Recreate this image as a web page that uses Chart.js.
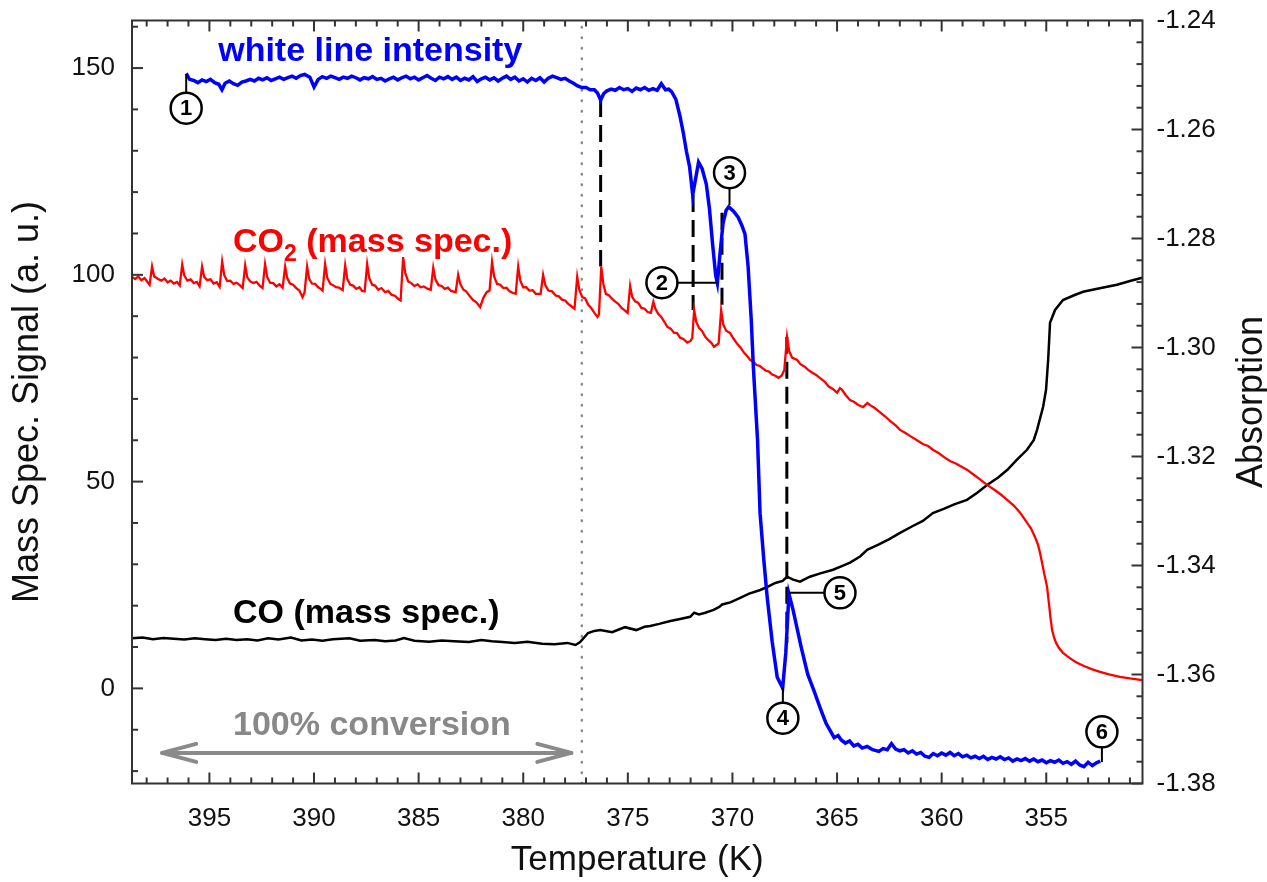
<!DOCTYPE html>
<html>
<head>
<meta charset="utf-8">
<script src="https://cdn.jsdelivr.net/npm/chart.js@4.4.0/dist/chart.umd.min.js"></script>
<style>
  html, body { margin: 0; padding: 0; background: #fff; }
  #wrap { width: 1267px; height: 882px; }
</style>
</head>
<body>
<div id="wrap"><canvas id="chart"></canvas></div>
<script>
  'use strict';

  // tick labels
  var tempTicks = [355, 360, 365, 370, 375, 380, 385, 390, 395];
  var signalTicks = [0, 50, 100, 150];
  var absTicks = [-1.38, -1.36, -1.34, -1.32, -1.30, -1.28, -1.26, -1.24];

  // white line intensity (absorption, right axis)
  var wlTemp = [396.11, 395.95, 395.75, 395.55, 395.35, 395.15, 394.95, 394.75, 394.55, 394.4, 394.25, 394.05, 393.85,
    393.65, 393.45, 393.25, 393.05, 392.85, 392.65, 392.45, 392.25, 392.05, 391.85, 391.65, 391.45, 391.25, 391.05,
    390.85, 390.65, 390.45, 390.2, 390.0, 389.8, 389.6, 389.4, 389.2, 389.0, 388.8, 388.6, 388.4, 388.2, 388.0, 387.8,
    387.6, 387.4, 387.2, 387.0, 386.8, 386.6, 386.4, 386.2, 386.0, 385.8, 385.6, 385.4, 385.2, 385.0, 384.8, 384.6,
    384.4, 384.2, 384.0, 383.8, 383.6, 383.4, 383.2, 383.0, 382.8, 382.6, 382.4, 382.2, 382.0, 381.8, 381.6, 381.4,
    381.2, 381.0, 380.8, 380.6, 380.4, 380.2, 380.0, 379.8, 379.6, 379.4, 379.2, 379.0, 378.8, 378.6, 378.4, 378.2,
    378.0, 377.8, 377.6, 377.4, 377.2, 377.0, 376.8, 376.6, 376.45, 376.3, 376.15, 376.0, 375.8, 375.6, 375.4, 375.2,
    375.0, 374.8, 374.6, 374.4, 374.2, 374.0, 373.8, 373.6, 373.4, 373.2, 373.05, 372.9,
    372.7, 372.5, 372.35, 372.2, 372.05, 371.9, 371.75, 371.62, 371.45, 371.25, 371.1, 370.95, 370.8, 370.72, 370.6,
    370.45, 370.3, 370.18, 369.95, 369.73, 369.55, 369.4, 369.25, 369.1, 369.0, 368.8, 368.68, 368.5, 368.34, 368.1,
    367.86, 367.6, 367.45, 367.3, 367.1, 366.72, 366.4,
    366.1, 365.8, 365.52, 365.3, 365.14, 364.95, 364.8, 364.6, 364.4, 364.2, 364.0, 363.8, 363.56, 363.3, 363.0, 362.8,
    362.6, 362.4, 362.2, 362.0, 361.8, 361.6, 361.4, 361.2, 361.0, 360.8, 360.6, 360.4, 360.2, 360.0, 359.8, 359.6,
    359.4, 359.2, 359.0, 358.8, 358.6, 358.4, 358.2, 358.0, 357.8, 357.6, 357.4, 357.2, 357.0, 356.8, 356.6, 356.4,
    356.2, 356.0, 355.8, 355.6, 355.4, 355.2, 355.0, 354.8, 354.6, 354.4, 354.2, 354.0, 353.8, 353.6, 353.4, 353.2,
    353.0, 352.8, 352.6, 352.42];
  var wlAbs = [-1.2497, -1.2508, -1.2510, -1.2514, -1.2509, -1.2512, -1.2508, -1.2514, -1.2517, -1.2527, -1.2515, -1.2511, -1.2516,
    -1.2519, -1.2513, -1.2511, -1.2508, -1.2511, -1.2506, -1.2509, -1.2505, -1.2510, -1.2507, -1.2504, -1.2508, -1.2505, -1.2502,
    -1.2506, -1.2501, -1.2499, -1.2504, -1.2522, -1.2508, -1.2503, -1.2506, -1.2502, -1.2505, -1.2508, -1.2504, -1.2506, -1.2502, -1.2505, -1.2509,
    -1.2505, -1.2507, -1.2503, -1.2508, -1.2506, -1.2511, -1.2507, -1.2504, -1.2509, -1.2505, -1.2502, -1.2507, -1.2504, -1.2509, -1.2505, -1.2501,
    -1.2506, -1.2510, -1.2504, -1.2507, -1.2503, -1.2508, -1.2504, -1.2510, -1.2506, -1.2509, -1.2503, -1.2512, -1.2507, -1.2504, -1.2509, -1.2505,
    -1.2511, -1.2506, -1.2502, -1.2508, -1.2504, -1.2511, -1.2507, -1.2513, -1.2506, -1.2510, -1.2505, -1.2513, -1.2506, -1.2502, -1.2505, -1.2508,
    -1.2506, -1.2511, -1.2515, -1.2520, -1.2523, -1.2523, -1.2527, -1.2527, -1.2533, -1.2546, -1.2534, -1.2529, -1.2526, -1.2528, -1.2523, -1.2527,
    -1.2525, -1.2530, -1.2524, -1.2527, -1.2523, -1.2528, -1.2525, -1.2528, -1.2516, -1.2527, -1.2526, -1.2531,
    -1.2545, -1.2577, -1.2606, -1.2640, -1.2668, -1.2720, -1.2688, -1.2660, -1.2672, -1.2700, -1.2745, -1.2810, -1.2868, -1.2882, -1.2830,
    -1.2772, -1.2748, -1.2742, -1.2750, -1.2761, -1.2776, -1.2792, -1.2852, -1.2950, -1.3036, -1.3170, -1.3304, -1.3390, -1.3458, -1.3540,
    -1.3605, -1.3625, -1.3560, -1.3452, -1.3482, -1.3549, -1.3600,
    -1.3630, -1.3662, -1.3690, -1.3705, -1.3716, -1.3712, -1.3720, -1.3726, -1.3722, -1.3731, -1.3728, -1.3735, -1.3732, -1.3738, -1.3741, -1.3736,
    -1.3738, -1.3727, -1.3737, -1.3740, -1.3738, -1.3744, -1.3740, -1.3746, -1.3743, -1.3750, -1.3752, -1.3745, -1.3749, -1.3744, -1.3748, -1.3743,
    -1.3749, -1.3745, -1.3751, -1.3748, -1.3753, -1.3750, -1.3754, -1.3750, -1.3756, -1.3752, -1.3755, -1.3751, -1.3756, -1.3753, -1.3759, -1.3755,
    -1.3758, -1.3754, -1.3759, -1.3755, -1.3760, -1.3757, -1.3762, -1.3758, -1.3761, -1.3757, -1.3763, -1.3760, -1.3765, -1.3759, -1.3766, -1.3769,
    -1.3761, -1.3767, -1.3762, -1.3759];

  // CO2 mass spec signal (left axis)
  var co2Temp = [398.70, 398.55, 398.40, 398.25, 398.10, 397.95, 397.86, 397.74, 397.64, 397.45, 397.30, 397.15, 397.00,
    396.85, 396.70, 396.55, 396.42, 396.30, 396.20, 396.05, 395.90, 395.75, 395.60, 395.47, 395.35, 395.25, 395.10,
    394.95, 394.80, 394.65, 394.51, 394.39, 394.29, 394.15, 394.00, 393.85, 393.70, 393.55, 393.41, 393.29, 393.19,
    393.05, 392.90, 392.75, 392.60, 392.46, 392.34, 392.24, 392.10, 391.95, 391.80, 391.65, 391.50, 391.38, 391.28,
    391.15, 391.00, 390.85, 390.70, 390.55, 390.45, 390.33, 390.23, 390.10, 389.95, 389.80, 389.68, 389.59, 389.47,
    389.37, 389.22, 389.09, 388.95, 388.80, 388.63, 388.51, 388.41, 388.27, 388.13, 387.98, 387.83, 387.70, 387.58,
    387.46, 387.36, 387.22, 387.08, 386.93, 386.78, 386.60, 386.45, 386.30, 386.12, 385.98, 385.86, 385.74, 385.64,
    385.50, 385.35, 385.20, 385.05, 384.90, 384.75, 384.56, 384.42, 384.30, 384.20, 384.05, 383.90, 383.75, 383.60,
    383.45, 383.23, 383.11, 383.01, 382.86, 382.73, 382.55, 382.40, 382.25, 382.06, 381.90, 381.75, 381.61, 381.49,
    381.39, 381.25, 381.10, 380.95, 380.80, 380.65, 380.49, 380.36, 380.24, 380.14, 380.00, 379.86, 379.71, 379.55,
    379.40, 379.17, 379.05, 378.95, 378.80, 378.62, 378.45, 378.30, 378.15, 378.00, 377.85, 377.70, 377.55, 377.42,
    377.32, 377.18, 377.04, 376.90, 376.75, 376.60, 376.45, 376.38, 376.27, 376.17, 376.05, 375.90, 375.75, 375.60,
    375.46, 375.30, 375.15, 375.01, 374.89, 374.79, 374.65, 374.50, 374.35, 374.20, 374.05, 373.90, 373.78, 373.68,
    373.55, 373.40, 373.25, 373.11, 372.95, 372.80, 372.65, 372.50, 372.35, 372.16, 372.00, 371.92, 371.83, 371.73,
    371.60, 371.45, 371.30, 371.15, 371.00, 370.88, 370.66, 370.54, 370.44, 370.30, 370.11, 369.95, 369.80, 369.63,
    369.45, 369.30, 369.15, 369.00, 368.85, 368.70, 368.58, 368.40, 368.25, 368.10, 367.95, 367.80, 367.65, 367.52,
    367.39, 367.29, 367.15, 366.91, 366.75, 366.55, 366.38, 366.20, 366.00, 365.81, 365.60, 365.40, 365.20, 365.00,
    364.86, 364.76, 364.60, 364.38, 364.20, 364.00, 363.76, 363.55, 363.42, 363.20, 363.00, 362.71, 362.45, 362.20,
    361.99, 361.75, 361.50, 361.18, 360.90, 360.65, 360.42, 360.15, 359.85, 359.60, 359.30, 359.05, 358.79, 358.45,
    358.15, 357.83, 357.50, 357.20, 356.87, 356.55, 356.25, 355.92, 355.72, 355.53, 355.40, 355.30, 355.20, 355.10,
    355.03, 354.96, 354.91, 354.86, 354.80, 354.72, 354.62, 354.53, 354.40, 354.20, 354.00, 353.75, 353.53, 353.20,
    352.80, 352.43, 352.00, 351.48, 351.00, 350.42];
  var co2Signal = [99.5, 99.0, 99.6, 98.7, 99.2, 98.2, 97.6, 102.0, 99.6, 99.0, 98.6, 99.1, 98.2,
    98.6, 97.9, 98.3, 97.4, 102.5, 99.8, 98.6, 98.9, 98.0, 98.3, 97.2, 102.0, 99.5, 98.7,
    98.9, 97.9, 98.2, 97.1, 103.2, 99.9, 98.5, 98.6, 97.8, 98.1, 97.5, 96.8, 102.3, 99.4,
    98.4, 98.0, 98.3, 97.4, 96.8, 102.6, 99.5, 98.1, 98.0, 97.2, 97.7, 96.9, 102.0, 99.2,
    97.9, 97.6, 96.8, 96.2, 94.6, 95.8, 102.0, 99.0, 97.9, 97.8, 97.0, 96.6, 96.2, 102.6,
    99.3, 97.8, 97.5, 97.0, 96.9, 96.3, 102.3, 99.0, 97.6, 97.4, 96.6, 97.0, 96.1, 96.0,
    102.6, 99.2, 97.6, 97.4, 96.4, 96.8, 95.8, 96.1, 95.2, 94.9, 94.2, 93.8, 104.3, 100.5,
    98.4, 98.0, 97.3, 97.7, 97.0, 97.2, 96.6, 96.4, 101.7, 98.9, 97.5, 97.3, 96.6, 96.9,
    96.1, 95.8, 100.0, 97.8, 96.4, 96.0, 94.8, 93.9, 93.4, 92.2, 94.5, 95.8, 96.2, 103.1,
    99.6, 97.8, 97.6, 96.8, 96.9, 96.0, 95.6, 95.4, 102.0, 98.6, 97.0, 97.0, 96.2, 96.3,
    95.4, 95.4, 100.0, 97.6, 96.2, 96.0, 95.0, 94.8, 94.0, 93.8, 93.0, 92.4, 91.8, 99.5,
    96.4, 94.6, 94.3, 92.8, 92.0, 90.8, 89.8, 90.4, 102.0, 97.8, 95.4, 95.0, 94.2, 93.5,
    93.0, 92.0, 91.4, 90.8, 97.3, 94.6, 93.6, 93.2, 92.0, 91.8, 91.0, 90.8, 93.5, 91.8,
    90.6, 89.8, 88.6, 87.4, 87.0, 86.0, 85.9, 84.8, 84.5, 83.6, 84.0, 84.8, 91.5, 88.6,
    87.2, 86.4, 85.0, 84.2, 83.5, 82.6, 83.4, 91.5, 88.0, 86.5, 85.9, 84.6, 83.5, 82.5,
    81.2, 80.4, 79.4, 79.0, 78.2, 78.0, 77.5, 76.8, 76.6, 75.9, 75.6, 75.1, 75.6, 77.0,
    85.0, 81.6, 80.0, 79.4, 78.4, 77.8, 77.0, 76.4, 75.8, 75.0, 74.2, 73.0, 72.4, 71.5,
    72.6, 72.2, 71.0, 69.7, 69.3, 68.6, 68.0, 69.0, 68.5, 67.8, 67.0, 65.8, 64.6, 63.6,
    62.5, 61.8, 61.0, 60.0, 59.1, 58.6, 57.7, 56.9, 55.8, 55.0, 54.3, 53.6, 52.9, 51.6,
    50.5, 49.2, 48.1, 47.0, 45.6, 44.2, 42.5, 40.1, 38.6, 36.5, 34.8, 32.8, 30.4, 27.8,
    26.2, 24.5, 22.2, 20.0, 17.2, 14.1, 12.2, 11.0, 9.8, 8.6, 7.8, 6.9, 6.2, 5.4,
    4.6, 4.0, 3.4, 2.8, 2.4, 2.0];

  // CO mass spec signal (left axis)
  var coTemp = [398.70, 398.2, 397.7, 397.2, 396.7, 396.2, 395.7, 395.2, 394.7, 394.2, 393.7, 393.2, 392.7, 392.2, 391.7,
    391.1, 390.6, 390.1, 389.6, 389.1, 388.3, 387.8, 387.1, 386.6, 386.1, 385.7, 385.2, 384.5, 383.9, 383.3, 382.6,
    382.0, 381.5, 381.0, 380.4, 379.8, 379.1, 378.5, 377.9, 377.5, 377.28, 376.9, 376.6, 376.32, 375.75, 375.4, 375.13,
    374.6, 374.2, 373.93, 373.5, 372.97, 372.5, 372.02, 371.83, 371.6, 371.3, 370.9, 370.63, 370.49, 370.1, 369.63,
    369.2, 368.67, 368.3, 367.95, 367.6, 367.39, 367.1, 366.77, 366.3, 365.8, 365.19, 364.8, 364.38, 363.9, 363.56,
    363.0, 362.5, 361.99, 361.4, 360.9, 360.42, 359.9, 359.4, 358.79, 358.3, 357.83, 357.3, 356.87, 356.4, 355.92,
    355.6, 355.44, 355.15, 355.01, 354.91, 354.86, 354.82, 354.58, 354.20, 353.7, 353.24, 352.5, 351.62, 351.0, 350.42];
  var coSignal = [12.1, 12.3, 11.9, 12.2, 12.0, 11.8, 12.1, 11.9, 11.7, 12.0, 11.7, 11.9, 11.6, 12.1, 11.8,
    12.3, 11.6, 11.8, 11.5, 11.9, 12.1, 11.5, 11.7, 11.4, 11.6, 12.2, 11.5, 11.3, 11.6, 11.4, 11.2,
    11.7, 11.4, 11.2, 11.0, 11.3, 10.8, 10.7, 11.0, 10.5, 11.2, 13.4, 13.9, 14.1, 13.6, 14.3, 14.8,
    14.1, 14.9, 15.1, 15.6, 16.3, 16.8, 17.3, 18.3, 17.9, 18.3, 19.0, 19.7, 20.3, 20.8, 21.9,
    22.9, 23.8, 24.6, 25.5, 26.0, 27.0, 26.3, 25.8, 27.0, 27.8, 28.7, 29.5, 30.4, 31.9, 33.5,
    34.8, 36.1, 37.6, 39.2, 40.5, 42.4, 43.4, 44.5, 45.6, 47.3, 49.2, 51.0, 52.8, 55.3, 57.7,
    60.0, 62.5, 68.1, 72.2, 79.4, 84.3, 88.4, 91.5, 93.9, 95.0, 95.9, 96.7, 97.6, 98.5, 99.3];

  // 100% conversion limit and dashed guide lines (left axis units)
  var conversionTemp = 377.2;
  var dashTemp = [376.3, 371.88, 370.5, 367.4];
  var dashTop = [142.3, 119.3, 115.0, 85.0];
  var dashBottom = [102.0, 91.5, 91.5, 11.0];

  // numbered markers (left axis units)
  var markerLabels = ['1', '2', '3', '4', '5', '6'];
  var markerTemp = [396.11, 373.37, 370.14, 367.59, 364.86, 352.34];
  var markerSignal = [140.3, 98.1, 124.7, -7.2, 23.1, -10.5];
  var leaderTemp = [396.11, 370.73, 370.14, 367.59, 367.3, 352.34];
  var leaderSignal = [148.5, 98.1, 116.9, 0.3, 23.1, -17.8];

  var FONT = "'Liberation Sans', Arial, sans-serif";

  function pts(xs, ys) {
    return xs.map(function (t, i) { return { x: t, y: ys[i] }; });
  }

  var datasets = [
    { data: pts(wlTemp, wlAbs), yAxisID: 'y1', borderColor: '#0000ff', borderWidth: 3.5 },
    { data: pts(co2Temp, co2Signal), yAxisID: 'y', borderColor: '#ff0000', borderWidth: 2.3 },
    { data: pts(coTemp, coSignal), yAxisID: 'y', borderColor: '#000000', borderWidth: 2.5 },
    { data: [{ x: conversionTemp, y: -23 }, { x: conversionTemp, y: 161.5 }], yAxisID: 'y',
      borderColor: '#8a8a8a', borderWidth: 2.5, borderDash: [0.5, 10], borderCapStyle: 'round' }
  ];
  dashTemp.forEach(function (t, i) {
    datasets.push({ data: [{ x: t, y: dashTop[i] }, { x: t, y: dashBottom[i] }], yAxisID: 'y',
      borderColor: '#000', borderWidth: 3, borderDash: [17, 8] });
  });
  datasets.forEach(function (d) { d.pointRadius = 0; d.tension = 0; d.fill = false; });

  var decorations = {
    id: 'decorations',
    afterDatasetsDraw: function (chart) {
      var ctx = chart.ctx, a = chart.chartArea;
      var x = chart.scales.x, y = chart.scales.y, y1 = chart.scales.y1;
      ctx.save();

      // frame + inward ticks
      ctx.strokeStyle = '#333';
      ctx.lineWidth = 2;
      ctx.strokeRect(a.left, a.top, a.right - a.left, a.bottom - a.top);
      function seg(x0, y0, x2, y2) { ctx.beginPath(); ctx.moveTo(x0, y0); ctx.lineTo(x2, y2); ctx.stroke(); }
      for (var t = 351; t <= 398; t++) {
        var px = x.getPixelForValue(t), len = t % 5 === 0 ? 11 : 6;
        seg(px, a.bottom, px, a.bottom - len);
        seg(px, a.top, px, a.top + len);
      }
      for (var v = -20; v <= 160; v += 10) {
        var py = y.getPixelForValue(v);
        seg(a.left, py, a.left + (v % 50 === 0 ? 11 : 6), py);
      }
      for (var k = 0; k <= 35; k++) {
        var py1 = y1.getPixelForValue(-1.38 + k * 0.004);
        seg(a.right, py1, a.right - (k % 5 === 0 ? 11 : 6), py1);
      }

      // markers
      ctx.strokeStyle = '#000';
      markerLabels.forEach(function (lab, i) {
        var cx = x.getPixelForValue(markerTemp[i]), cy = y.getPixelForValue(markerSignal[i]);
        ctx.lineWidth = 2;
        seg(cx, cy, x.getPixelForValue(leaderTemp[i]), y.getPixelForValue(leaderSignal[i]));
        ctx.beginPath();
        ctx.arc(cx, cy, 15.5, 0, Math.PI * 2);
        ctx.fillStyle = '#fff';
        ctx.fill();
        ctx.lineWidth = 2.5;
        ctx.stroke();
        ctx.fillStyle = '#000';
        ctx.font = 'bold 22px ' + FONT;
        ctx.textAlign = 'center';
        ctx.textBaseline = 'middle';
        ctx.fillText(lab, cx, cy + 1);
      });

      // labels
      ctx.textAlign = 'left';
      ctx.textBaseline = 'alphabetic';
      ctx.font = 'bold 34px ' + FONT;
      ctx.fillStyle = '#0000ff';
      ctx.fillText('white line intensity', x.getPixelForValue(394.58), y.getPixelForValue(151.6));

      var cx2 = x.getPixelForValue(393.87), cy2 = y.getPixelForValue(105.5);
      ctx.fillStyle = '#ff0000';
      ctx.fillText('CO', cx2, cy2);
      cx2 += ctx.measureText('CO').width;
      ctx.font = 'bold 23px ' + FONT;
      ctx.fillText('2', cx2, cy2 + 9);
      cx2 += ctx.measureText('2').width;
      ctx.font = 'bold 34px ' + FONT;
      ctx.fillText(' (mass spec.)', cx2, cy2);

      ctx.fillStyle = '#000';
      ctx.fillText('CO (mass spec.)', x.getPixelForValue(393.87), y.getPixelForValue(15.8));

      ctx.fillStyle = '#888';
      ctx.fillText('100% conversion', x.getPixelForValue(393.87), y.getPixelForValue(-11.2));

      // double arrow
      var ax0 = x.getPixelForValue(397.26), ax1 = x.getPixelForValue(377.7), ay = y.getPixelForValue(-15.6);
      ctx.strokeStyle = '#8a8a8a';
      ctx.lineWidth = 4;
      ctx.lineCap = 'round';
      ctx.lineJoin = 'round';
      seg(ax0, ay, ax1, ay);
      ctx.beginPath();
      ctx.moveTo(ax0 + 34, ay - 9); ctx.lineTo(ax0, ay); ctx.lineTo(ax0 + 34, ay + 9);
      ctx.moveTo(ax1 - 34, ay - 9); ctx.lineTo(ax1, ay); ctx.lineTo(ax1 - 34, ay + 9);
      ctx.stroke();

      // right axis title, reads bottom to top
      ctx.translate(chart.width - 15, (a.top + a.bottom) / 2);
      ctx.rotate(-Math.PI / 2);
      ctx.fillStyle = '#111';
      ctx.font = '36px ' + FONT;
      ctx.textAlign = 'center';
      ctx.textBaseline = 'middle';
      ctx.fillText('Absorption', 0, 0);
      ctx.restore();
    }
  };

  function noLabelPadding(s) {
    s.paddingTop = 0; s.paddingBottom = 0; s.paddingLeft = 0; s.paddingRight = 0;
  }

  var ctx = document.getElementById('chart');
  var chart = new Chart(ctx, {
    type: 'line',
    data: { datasets: datasets },
    plugins: [decorations],
    options: {
      responsive: true,
      maintainAspectRatio: false,
      animation: false,
      layout: { padding: { top: 20.5, left: 0, right: 0, bottom: 0 } },
      plugins: { legend: { display: false }, tooltip: { enabled: false } },
      scales: {
        x: {
          type: 'linear', reverse: true, min: 350.4, max: 398.7,
          afterBuildTicks: function (s) { s.ticks = tempTicks.map(function (v) { return { value: v }; }); },
          afterFit: function (s) { s.height = 98.5; noLabelPadding(s); },
          grid: { display: false, drawTicks: false }, border: { display: false },
          ticks: { autoSkip: false, maxRotation: 0, padding: 20, color: '#111',
            font: { family: FONT, size: 26, lineHeight: 1.2 }, callback: function (v) { return String(v); } },
          title: { display: true, text: 'Temperature (K)', color: '#111',
            font: { family: FONT, size: 35, lineHeight: 1 }, padding: { top: 0, bottom: 4.5 } }
        },
        y: {
          position: 'left', min: -23, max: 161.5,
          afterBuildTicks: function (s) { s.ticks = signalTicks.map(function (v) { return { value: v }; }); },
          afterFit: function (s) { s.width = 132; noLabelPadding(s); },
          grid: { display: false, drawTicks: false }, border: { display: false },
          ticks: { autoSkip: false, padding: 17, color: '#111', font: { family: FONT, size: 26 },
            callback: function (v) { return String(v); } },
          title: { display: true, text: 'Mass Spec. Signal (a. u.)', color: '#111',
            font: { family: FONT, size: 36, lineHeight: 1 }, padding: { top: 10, bottom: 0 } }
        },
        y1: {
          position: 'right', min: -1.38, max: -1.24,
          afterBuildTicks: function (s) { s.ticks = absTicks.map(function (v) { return { value: v }; }); },
          afterFit: function (s) { s.width = 124.5; noLabelPadding(s); },
          grid: { display: false, drawTicks: false }, border: { display: false },
          ticks: { autoSkip: false, padding: 14, color: '#111', font: { family: FONT, size: 26 },
            callback: function (v) { return v.toFixed(2); } }
        }
      }
    }
  });
</script>
</body>
</html>
